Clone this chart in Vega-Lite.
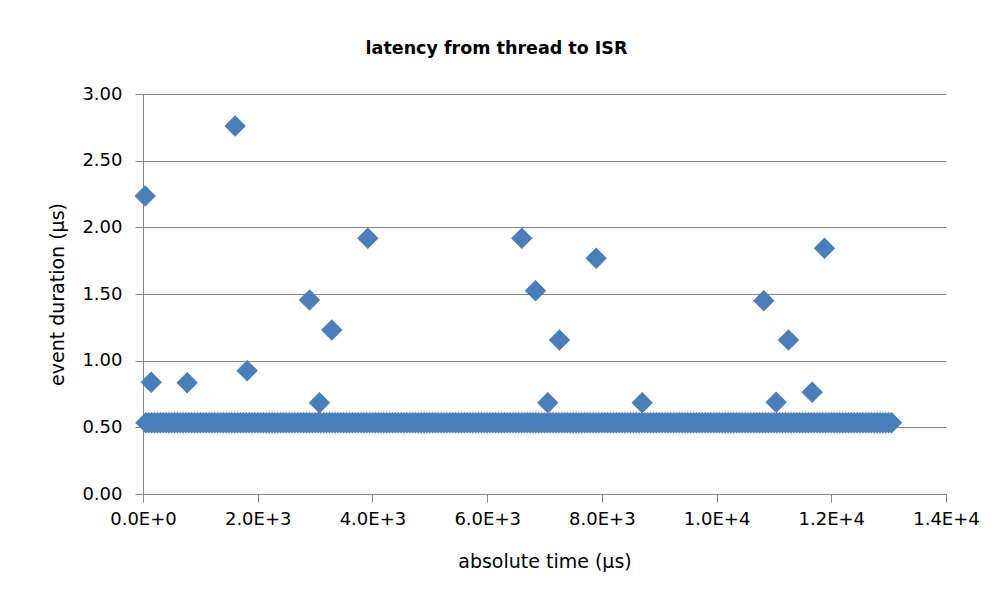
{
  "$schema": "https://vega.github.io/schema/vega-lite/v6.json",
  "autosize": "none",
  "width": 803,
  "height": 400,
  "padding": {"left": 143, "top": 94, "right": 56, "bottom": 112},
  "background": "white",
  "config": {
    "view": {"stroke": null},
    "font": "DejaVu Sans"
  },
  "title": {
    "text": "latency from thread to ISR",
    "font": "DejaVu Sans",
    "fontSize": 17.5,
    "fontWeight": "bold",
    "color": "#000000",
    "anchor": "middle",
    "frame": "group",
    "dx": -48,
    "offset": 28
  },
  "data": {
    "values": [
      {"time":50,"duration":0.535},{"time":100,"duration":0.535},{"time":150,"duration":0.535},{"time":200,"duration":0.535},{"time":250,"duration":0.535},{"time":300,"duration":0.535},{"time":350,"duration":0.535},{"time":400,"duration":0.535},{"time":450,"duration":0.535},{"time":500,"duration":0.535},
      {"time":550,"duration":0.535},{"time":600,"duration":0.535},{"time":650,"duration":0.535},{"time":700,"duration":0.535},{"time":750,"duration":0.535},{"time":800,"duration":0.535},{"time":850,"duration":0.535},{"time":900,"duration":0.535},{"time":950,"duration":0.535},{"time":1000,"duration":0.535},
      {"time":1050,"duration":0.535},{"time":1100,"duration":0.535},{"time":1150,"duration":0.535},{"time":1200,"duration":0.535},{"time":1250,"duration":0.535},{"time":1300,"duration":0.535},{"time":1350,"duration":0.535},{"time":1400,"duration":0.535},{"time":1450,"duration":0.535},{"time":1500,"duration":0.535},
      {"time":1550,"duration":0.535},{"time":1600,"duration":0.535},{"time":1650,"duration":0.535},{"time":1700,"duration":0.535},{"time":1750,"duration":0.535},{"time":1800,"duration":0.535},{"time":1850,"duration":0.535},{"time":1900,"duration":0.535},{"time":1950,"duration":0.535},{"time":2000,"duration":0.535},
      {"time":2050,"duration":0.535},{"time":2100,"duration":0.535},{"time":2150,"duration":0.535},{"time":2200,"duration":0.535},{"time":2250,"duration":0.535},{"time":2300,"duration":0.535},{"time":2350,"duration":0.535},{"time":2400,"duration":0.535},{"time":2450,"duration":0.535},{"time":2500,"duration":0.535},
      {"time":2550,"duration":0.535},{"time":2600,"duration":0.535},{"time":2650,"duration":0.535},{"time":2700,"duration":0.535},{"time":2750,"duration":0.535},{"time":2800,"duration":0.535},{"time":2850,"duration":0.535},{"time":2900,"duration":0.535},{"time":2950,"duration":0.535},{"time":3000,"duration":0.535},
      {"time":3050,"duration":0.535},{"time":3100,"duration":0.535},{"time":3150,"duration":0.535},{"time":3200,"duration":0.535},{"time":3250,"duration":0.535},{"time":3300,"duration":0.535},{"time":3350,"duration":0.535},{"time":3400,"duration":0.535},{"time":3450,"duration":0.535},{"time":3500,"duration":0.535},
      {"time":3550,"duration":0.535},{"time":3600,"duration":0.535},{"time":3650,"duration":0.535},{"time":3700,"duration":0.535},{"time":3750,"duration":0.535},{"time":3800,"duration":0.535},{"time":3850,"duration":0.535},{"time":3900,"duration":0.535},{"time":3950,"duration":0.535},{"time":4000,"duration":0.535},
      {"time":4050,"duration":0.535},{"time":4100,"duration":0.535},{"time":4150,"duration":0.535},{"time":4200,"duration":0.535},{"time":4250,"duration":0.535},{"time":4300,"duration":0.535},{"time":4350,"duration":0.535},{"time":4400,"duration":0.535},{"time":4450,"duration":0.535},{"time":4500,"duration":0.535},
      {"time":4550,"duration":0.535},{"time":4600,"duration":0.535},{"time":4650,"duration":0.535},{"time":4700,"duration":0.535},{"time":4750,"duration":0.535},{"time":4800,"duration":0.535},{"time":4850,"duration":0.535},{"time":4900,"duration":0.535},{"time":4950,"duration":0.535},{"time":5000,"duration":0.535},
      {"time":5050,"duration":0.535},{"time":5100,"duration":0.535},{"time":5150,"duration":0.535},{"time":5200,"duration":0.535},{"time":5250,"duration":0.535},{"time":5300,"duration":0.535},{"time":5350,"duration":0.535},{"time":5400,"duration":0.535},{"time":5450,"duration":0.535},{"time":5500,"duration":0.535},
      {"time":5550,"duration":0.535},{"time":5600,"duration":0.535},{"time":5650,"duration":0.535},{"time":5700,"duration":0.535},{"time":5750,"duration":0.535},{"time":5800,"duration":0.535},{"time":5850,"duration":0.535},{"time":5900,"duration":0.535},{"time":5950,"duration":0.535},{"time":6000,"duration":0.535},
      {"time":6050,"duration":0.535},{"time":6100,"duration":0.535},{"time":6150,"duration":0.535},{"time":6200,"duration":0.535},{"time":6250,"duration":0.535},{"time":6300,"duration":0.535},{"time":6350,"duration":0.535},{"time":6400,"duration":0.535},{"time":6450,"duration":0.535},{"time":6500,"duration":0.535},
      {"time":6550,"duration":0.535},{"time":6600,"duration":0.535},{"time":6650,"duration":0.535},{"time":6700,"duration":0.535},{"time":6750,"duration":0.535},{"time":6800,"duration":0.535},{"time":6850,"duration":0.535},{"time":6900,"duration":0.535},{"time":6950,"duration":0.535},{"time":7000,"duration":0.535},
      {"time":7050,"duration":0.535},{"time":7100,"duration":0.535},{"time":7150,"duration":0.535},{"time":7200,"duration":0.535},{"time":7250,"duration":0.535},{"time":7300,"duration":0.535},{"time":7350,"duration":0.535},{"time":7400,"duration":0.535},{"time":7450,"duration":0.535},{"time":7500,"duration":0.535},
      {"time":7550,"duration":0.535},{"time":7600,"duration":0.535},{"time":7650,"duration":0.535},{"time":7700,"duration":0.535},{"time":7750,"duration":0.535},{"time":7800,"duration":0.535},{"time":7850,"duration":0.535},{"time":7900,"duration":0.535},{"time":7950,"duration":0.535},{"time":8000,"duration":0.535},
      {"time":8050,"duration":0.535},{"time":8100,"duration":0.535},{"time":8150,"duration":0.535},{"time":8200,"duration":0.535},{"time":8250,"duration":0.535},{"time":8300,"duration":0.535},{"time":8350,"duration":0.535},{"time":8400,"duration":0.535},{"time":8450,"duration":0.535},{"time":8500,"duration":0.535},
      {"time":8550,"duration":0.535},{"time":8600,"duration":0.535},{"time":8650,"duration":0.535},{"time":8700,"duration":0.535},{"time":8750,"duration":0.535},{"time":8800,"duration":0.535},{"time":8850,"duration":0.535},{"time":8900,"duration":0.535},{"time":8950,"duration":0.535},{"time":9000,"duration":0.535},
      {"time":9050,"duration":0.535},{"time":9100,"duration":0.535},{"time":9150,"duration":0.535},{"time":9200,"duration":0.535},{"time":9250,"duration":0.535},{"time":9300,"duration":0.535},{"time":9350,"duration":0.535},{"time":9400,"duration":0.535},{"time":9450,"duration":0.535},{"time":9500,"duration":0.535},
      {"time":9550,"duration":0.535},{"time":9600,"duration":0.535},{"time":9650,"duration":0.535},{"time":9700,"duration":0.535},{"time":9750,"duration":0.535},{"time":9800,"duration":0.535},{"time":9850,"duration":0.535},{"time":9900,"duration":0.535},{"time":9950,"duration":0.535},{"time":10000,"duration":0.535},
      {"time":10050,"duration":0.535},{"time":10100,"duration":0.535},{"time":10150,"duration":0.535},{"time":10200,"duration":0.535},{"time":10250,"duration":0.535},{"time":10300,"duration":0.535},{"time":10350,"duration":0.535},{"time":10400,"duration":0.535},{"time":10450,"duration":0.535},{"time":10500,"duration":0.535},
      {"time":10550,"duration":0.535},{"time":10600,"duration":0.535},{"time":10650,"duration":0.535},{"time":10700,"duration":0.535},{"time":10750,"duration":0.535},{"time":10800,"duration":0.535},{"time":10850,"duration":0.535},{"time":10900,"duration":0.535},{"time":10950,"duration":0.535},{"time":11000,"duration":0.535},
      {"time":11050,"duration":0.535},{"time":11100,"duration":0.535},{"time":11150,"duration":0.535},{"time":11200,"duration":0.535},{"time":11250,"duration":0.535},{"time":11300,"duration":0.535},{"time":11350,"duration":0.535},{"time":11400,"duration":0.535},{"time":11450,"duration":0.535},{"time":11500,"duration":0.535},
      {"time":11550,"duration":0.535},{"time":11600,"duration":0.535},{"time":11650,"duration":0.535},{"time":11700,"duration":0.535},{"time":11750,"duration":0.535},{"time":11800,"duration":0.535},{"time":11850,"duration":0.535},{"time":11900,"duration":0.535},{"time":11950,"duration":0.535},{"time":12000,"duration":0.535},
      {"time":12050,"duration":0.535},{"time":12100,"duration":0.535},{"time":12150,"duration":0.535},{"time":12200,"duration":0.535},{"time":12250,"duration":0.535},{"time":12300,"duration":0.535},{"time":12350,"duration":0.535},{"time":12400,"duration":0.535},{"time":12450,"duration":0.535},{"time":12500,"duration":0.535},
      {"time":12550,"duration":0.535},{"time":12600,"duration":0.535},{"time":12650,"duration":0.535},{"time":12700,"duration":0.535},{"time":12750,"duration":0.535},{"time":12800,"duration":0.535},{"time":12850,"duration":0.535},{"time":12900,"duration":0.535},{"time":12950,"duration":0.535},{"time":13000,"duration":0.535},
      {"time":13050,"duration":0.535},
      {"time":38,"duration":2.235},
      {"time":1607,"duration":2.76},
      {"time":143,"duration":0.838},
      {"time":770,"duration":0.835},
      {"time":1816,"duration":0.925},
      {"time":2903,"duration":1.455},
      {"time":3077,"duration":0.685},
      {"time":3292,"duration":1.23},
      {"time":3920,"duration":1.918},
      {"time":6604,"duration":1.918},
      {"time":6843,"duration":1.525},
      {"time":7058,"duration":0.685},
      {"time":7261,"duration":1.155},
      {"time":7901,"duration":1.768},
      {"time":8703,"duration":0.685},
      {"time":10823,"duration":1.45},
      {"time":11039,"duration":0.688},
      {"time":11253,"duration":1.155},
      {"time":11666,"duration":0.763},
      {"time":11881,"duration":1.843}
    ]
  },
  "mark": {"type": "point", "shape": "diamond", "filled": true, "size": 460, "color": "#4a7ebb", "opacity": 1, "clip": false},
  "encoding": {
    "x": {
      "field": "time",
      "type": "quantitative",
      "scale": {"domain": [0, 14000], "nice": false, "zero": true},
      "axis": {
        "title": "absolute time (µs)",
        "values": [0, 2000, 4000, 6000, 8000, 10000, 12000, 14000],
        "labelExpr": "replace(format(datum.value, '.1e'), 'e', 'E')",
        "grid": false,
        "domainColor": "#868686",
        "tickColor": "#868686",
        "tickSize": 8,
        "labelPadding": 8,
        "labelFont": "DejaVu Sans",
        "labelFontSize": 18,
        "labelColor": "#000000",
        "labelFlush": false,
        "titleFont": "DejaVu Sans",
        "titleFontSize": 19,
        "titleFontWeight": "normal",
        "titleColor": "#000000",
        "titlePadding": 24
      }
    },
    "y": {
      "field": "duration",
      "type": "quantitative",
      "scale": {"domain": [0, 3], "nice": false},
      "axis": {
        "title": "event duration (µs)",
        "values": [0, 0.5, 1, 1.5, 2, 2.5, 3],
        "format": ".2f",
        "grid": true,
        "gridColor": "#868686",
        "gridWidth": 1,
        "domainColor": "#868686",
        "tickColor": "#868686",
        "tickSize": 8,
        "labelPadding": 13,
        "labelFont": "DejaVu Sans",
        "labelFontSize": 18,
        "labelColor": "#000000",
        "labelFlush": false,
        "titleFont": "DejaVu Sans",
        "titleFontSize": 19,
        "titleFontWeight": "normal",
        "titleColor": "#000000",
        "titlePadding": 14
      }
    }
  }
}
